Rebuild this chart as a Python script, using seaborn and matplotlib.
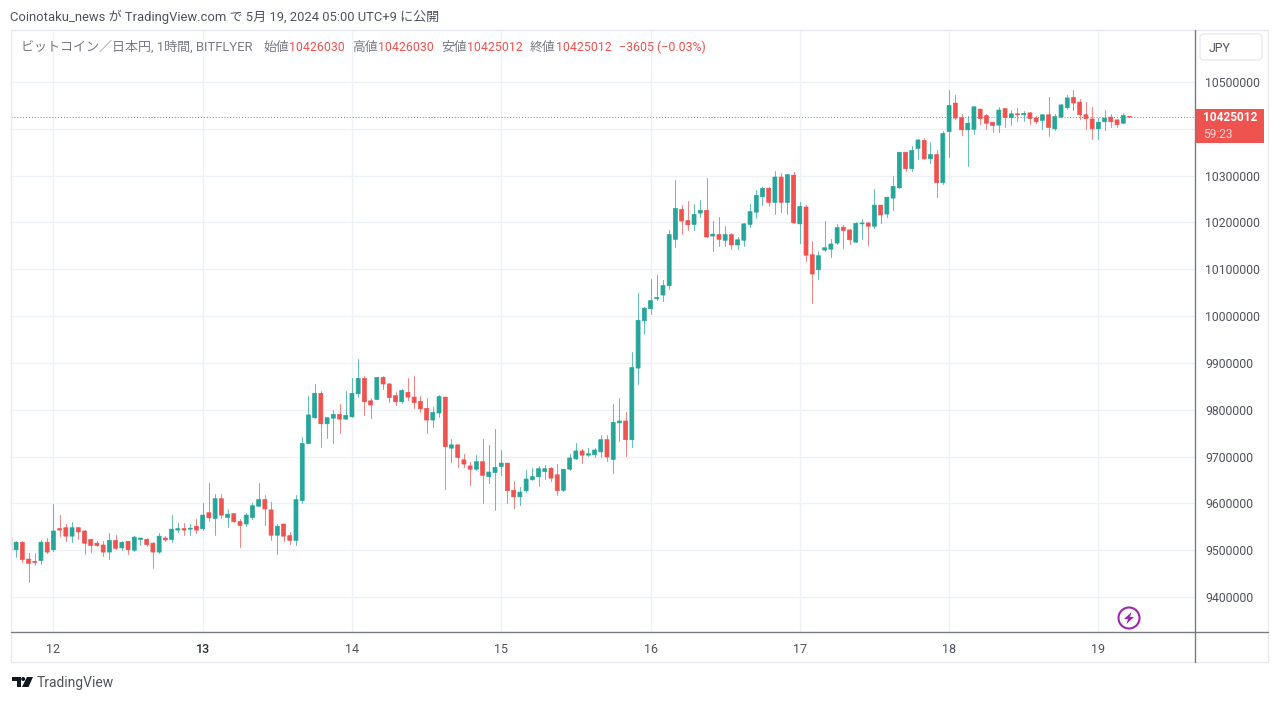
import matplotlib
matplotlib.use("Agg")
import matplotlib.pyplot as plt
from matplotlib.patches import Circle, FancyBboxPatch, Polygon, Rectangle
from matplotlib.ticker import FuncFormatter
import numpy as np
import pandas as pd
import seaborn as sns

# BTC/JPY hourly candles on bitFlyer, prices in thousands of yen.
# Hour 0 is 00:00 on May 12.
first_hour = -7
open_k = [
    9528, 9501, 9517, 9481, 9476, 9478, 9517,
    9501, 9546, 9548, 9530, 9548, 9541, 9523, 9515, 9511, 9496,
    9521, 9505, 9519, 9500, 9523, 9523, 9515, 9496, 9526, 9523,
    9543, 9546, 9545, 9551, 9546, 9580, 9568, 9610, 9570, 9578,
    9561, 9556, 9570, 9594, 9608, 9586, 9532, 9556, 9531, 9521,
    9606, 9728, 9783, 9835, 9770, 9782, 9790, 9780, 9785, 9834,
    9867, 9819, 9822, 9869, 9855, 9830, 9817, 9837, 9827, 9818,
    9803, 9778, 9793, 9827, 9718, 9725, 9693, 9680, 9673, 9689,
    9657, 9666, 9679, 9686, 9628, 9614, 9627, 9651, 9657, 9668,
    9675, 9661, 9628, 9673, 9695, 9712, 9703, 9704, 9710, 9736,
    9694, 9772, 9776, 9736, 9889, 9990, 10016, 10037, 10045, 10065,
    10164, 10228, 10204, 10196, 10220, 10226, 10171, 10174, 10162, 10174,
    10152, 10162, 10196, 10222, 10255, 10273, 10243, 10297, 10243, 10301,
    10197, 10233, 10131, 10099, 10141, 10143, 10156, 10190, 10184, 10158,
    10197, 10199, 10192, 10237, 10218, 10252, 10274, 10350, 10315, 10358,
    10375, 10336, 10345, 10285, 10394, 10455, 10424, 10398, 10399, 10442,
    10428, 10414, 10408, 10443, 10424, 10432, 10430, 10434, 10423, 10418,
    10430, 10400, 10425, 10445, 10467, 10457, 10430, 10421, 10400, 10415,
    10425, 10419, 10412, 10426.030,
]
high_k = [
    9528, 9519, 9519, 9493, 9494, 9521, 9525,
    9598, 9576, 9556, 9560, 9550, 9543, 9523, 9519, 9520, 9536,
    9533, 9520, 9519, 9530, 9527, 9526, 9518, 9537, 9531, 9576,
    9558, 9558, 9557, 9566, 9600, 9644, 9621, 9621, 9587, 9578,
    9566, 9580, 9601, 9644, 9617, 9603, 9556, 9556, 9538, 9617,
    9741, 9830, 9856, 9839, 9783, 9800, 9812, 9839, 9867, 9908,
    9872, 9825, 9869, 9872, 9857, 9837, 9844, 9867, 9872, 9830,
    9825, 9805, 9832, 9827, 9737, 9725, 9706, 9689, 9703, 9737,
    9725, 9758, 9714, 9687, 9647, 9634, 9671, 9675, 9679, 9681,
    9677, 9684, 9674, 9705, 9728, 9717, 9719, 9719, 9745, 9745,
    9812, 9826, 9795, 9924, 10049, 10019, 10079, 10088, 10078, 10183,
    10290, 10238, 10245, 10240, 10247, 10296, 10203, 10211, 10193, 10178,
    10168, 10198, 10240, 10269, 10276, 10275, 10309, 10306, 10302, 10307,
    10243, 10237, 10161, 10139, 10204, 10165, 10196, 10195, 10187, 10202,
    10207, 10202, 10272, 10238, 10254, 10299, 10350, 10350, 10363, 10378,
    10380, 10371, 10354, 10395, 10483, 10472, 10432, 10427, 10447, 10442,
    10431, 10414, 10446, 10444, 10440, 10444, 10437, 10435, 10427, 10432,
    10467, 10432, 10452, 10472, 10483, 10464, 10457, 10446, 10423, 10440,
    10432, 10420, 10434, 10426.030,
]
low_k = [
    9500, 9485, 9474, 9432, 9469, 9471, 9493,
    9498, 9531, 9519, 9517, 9523, 9491, 9496, 9508, 9487, 9481,
    9503, 9501, 9492, 9499, 9512, 9510, 9463, 9493, 9519, 9517,
    9538, 9533, 9533, 9537, 9543, 9563, 9533, 9568, 9550, 9560,
    9506, 9551, 9566, 9594, 9554, 9521, 9491, 9519, 9513, 9511,
    9600, 9728, 9783, 9720, 9740, 9730, 9751, 9780, 9785, 9827,
    9789, 9782, 9822, 9845, 9817, 9811, 9814, 9821, 9804, 9796,
    9751, 9764, 9785, 9630, 9688, 9677, 9677, 9639, 9672, 9600,
    9644, 9585, 9660, 9600, 9591, 9597, 9625, 9650, 9637, 9653,
    9648, 9617, 9627, 9672, 9694, 9686, 9701, 9698, 9698, 9691,
    9665, 9733, 9702, 9721, 9856, 9962, 10005, 10035, 10033, 10057,
    10148, 10176, 10183, 10183, 10212, 10169, 10139, 10150, 10150, 10144,
    10143, 10150, 10191, 10210, 10237, 10235, 10219, 10223, 10218, 10199,
    10156, 10118, 10029, 10079, 10140, 10126, 10154, 10145, 10153, 10158,
    10165, 10151, 10189, 10199, 10212, 10227, 10274, 10310, 10310, 10336,
    10336, 10327, 10255, 10283, 10340, 10421, 10386, 10321, 10390, 10410,
    10400, 10393, 10393, 10403, 10408, 10416, 10416, 10410, 10412, 10400,
    10385, 10398, 10425, 10442, 10440, 10421, 10400, 10378, 10378, 10398,
    10404, 10404, 10412, 10425.012,
]
close_k = [
    9500, 9517, 9480, 9472, 9474, 9517, 9496,
    9541, 9543, 9530, 9548, 9539, 9515, 9510, 9510, 9496, 9521,
    9504, 9517, 9501, 9528, 9526, 9512, 9496, 9530, 9522, 9545,
    9546, 9543, 9547, 9543, 9575, 9569, 9610, 9575, 9577, 9561,
    9553, 9575, 9595, 9608, 9588, 9532, 9551, 9530, 9521, 9608,
    9728, 9789, 9835, 9770, 9783, 9790, 9780, 9788, 9835, 9867,
    9817, 9810, 9869, 9855, 9826, 9817, 9841, 9827, 9815, 9802,
    9778, 9794, 9828, 9721, 9725, 9698, 9684, 9673, 9689, 9660,
    9667, 9677, 9686, 9627, 9614, 9624, 9652, 9657, 9674, 9674,
    9654, 9627, 9673, 9697, 9712, 9703, 9706, 9714, 9736, 9699,
    9773, 9776, 9736, 9890, 9991, 10017, 10033, 10040, 10065, 10174,
    10230, 10203, 10195, 10217, 10226, 10169, 10175, 10164, 10174, 10152,
    10163, 10197, 10223, 10258, 10273, 10243, 10297, 10243, 10302, 10199,
    10234, 10130, 10090, 10129, 10146, 10154, 10189, 10183, 10163, 10198,
    10199, 10192, 10237, 10216, 10254, 10277, 10350, 10315, 10354, 10376,
    10336, 10345, 10285, 10390, 10450, 10423, 10398, 10412, 10447, 10422,
    10412, 10407, 10440, 10424, 10432, 10430, 10433, 10422, 10415, 10430,
    10403, 10426, 10451, 10466, 10455, 10430, 10422, 10400, 10414, 10423,
    10415, 10409, 10428.6, 10425.012,
]

day_labels = ["12", "13", "14", "15", "16", "17", "18", "19"]
price_ticks = [9400000 + 100000 * n for n in range(12)]
covered_tick = 10400000
last_price = 10425012
legend_parts = [
    (21, "ビットコイン／日本円, 1時間, BITFLYER", "gray", 9.4),
    (263, "始値", "gray", 9.2), (289, "10426030", "red", 8.9),
    (352, "高値", "gray", 9.2), (378, "10426030", "red", 8.9),
    (441, "安値", "gray", 9.2), (467, "10425012", "red", 8.9),
    (530, "終値", "gray", 9.2), (556, "10425012", "red", 8.9),
    (619, "−3605 (−0.03%)", "red", 8.9),
]

UP = "#26a69a"
DOWN = "#ef5350"
GRID = "#edf2f7"
AXIS = "#787b86"
TEXT = "#50535e"
BORDER = "#e6e9f0"

sns.set_theme(style="white")
plt.rcParams["font.family"] = ["Roboto", "Noto Sans CJK JP", "DejaVu Sans"]

candles = pd.DataFrame({
    "open": np.array(open_k) * 1000,
    "high": np.array(high_k) * 1000,
    "low": np.array(low_k) * 1000,
    "close": np.array(close_k) * 1000,
})
candles["hour"] = first_hour + candles.index
candles["side"] = np.where(candles["close"] >= candles["open"], "up", "down")
candles["body_low"] = candles[["open", "close"]].min(axis=1)
candles["body"] = (candles["close"] - candles["open"]).abs()

W, H = 1280, 701
PANE_L, PANE_R, PANE_T, PANE_B = 11, 1195, 30, 632
fig = plt.figure(figsize=(W / 100, H / 100), dpi=100, facecolor="white")
ax = fig.add_axes([PANE_L / W, 1 - PANE_B / H, (PANE_R - PANE_L) / W, (PANE_B - PANE_T) / H])

# One vertical wick per candle, split by direction for colouring.
wicks = candles.melt(id_vars=["hour", "side"], value_vars=["low", "high"], value_name="price")
sns.lineplot(data=wicks, x="hour", y="price", units="hour", estimator=None, hue="side",
             palette={"up": UP, "down": DOWN}, linewidth=0.75, alpha=0.7, sort=False,
             legend=False, ax=ax, zorder=3)

# Candle bodies floated on their lower edge.
for side, colour in (("up", UP), ("down", DOWN)):
    part = candles[candles["side"] == side]
    sns.barplot(data=part, x="hour", y="body", native_scale=True, width=0.64, color=colour,
                saturation=1, errorbar=None, bottom=part["body_low"].to_numpy(),
                edgecolor=colour, linewidth=0.5, ax=ax, zorder=4)
for bar in ax.patches:
    bar.set_snap(False)

ax.axhline(last_price, color=DOWN, linewidth=0.7, linestyle=(0, (1, 2)), zorder=2)

px_per_hour = 149.28 / 24
hour0_px = 53.4
ax.set_xlim((PANE_L - hour0_px) / px_per_hour, (PANE_R - hour0_px) / px_per_hour)
yen_per_px = 100000 / 46.82
ax.set_ylim(10500000 - (PANE_B - 82) * yen_per_px, 10500000 + (82 - PANE_T) * yen_per_px)

ax.set_xticks([24 * n for n in range(len(day_labels))], day_labels)
ax.set_yticks(price_ticks)
# The live price tag sits over the 10400000 level, so that label stays blank.
ax.yaxis.set_major_formatter(
    FuncFormatter(lambda v, _: "" if round(v) == covered_tick else f"{int(round(v))}")
)
ax.yaxis.tick_right()
ax.grid(True, color=GRID, linewidth=1.0, zorder=0)
ax.set_axisbelow(True)
ax.set_xlabel("")
ax.set_ylabel("")
ax.tick_params(axis="y", length=0, pad=7.5, labelsize=8.8, labelcolor=TEXT)
ax.tick_params(axis="x", length=0, pad=8, labelsize=9, labelcolor=TEXT)
ax.get_xticklabels()[1].set_fontweight("medium")
ax.get_xticklabels()[1].set_color("#2a2e39")
for spine in ax.spines.values():
    spine.set_visible(False)

# Frame, header, price tag and footer in pixel coordinates.
chrome = fig.add_axes([0, 0, 1, 1], zorder=5)
chrome.set_xlim(0, W)
chrome.set_ylim(H, 0)
chrome.axis("off")
chrome.patch.set_alpha(0)

chrome.plot([11, 1268, 1268, 11, 11], [30, 30, 662, 662, 30], color=BORDER, lw=1.0)
chrome.plot([11, 1268], [632, 632], color=AXIS, lw=1.0)
chrome.plot([1195, 1195], [30, 662], color=AXIS, lw=1.0)

chrome.text(10, 17, "Coinotaku_news が TradingView.com で 5月 19, 2024 05:00 UTC+9 に公開",
            fontsize=9.4, color="#50535e", va="center", ha="left")
for x, label, tone, size in legend_parts:
    chrome.text(x, 47.5, label, fontsize=size, va="center", ha="left",
                color="#787b86" if tone == "gray" else DOWN)

chrome.add_patch(FancyBboxPatch((1200, 34), 62, 26, boxstyle="round,pad=0,rounding_size=4",
                                facecolor="white", edgecolor=BORDER, lw=1.0))
chrome.text(1209, 48, "JPY", fontsize=8.8, color=TEXT, va="center", ha="left")

chrome.add_patch(Rectangle((1195, 109), 69, 34, facecolor=DOWN, edgecolor="none"))
chrome.text(1203, 117.5, f"{last_price}", fontsize=8.6, color="white", fontweight="bold",
            va="center", ha="left")
chrome.text(1203, 134, "59:23", fontsize=8.6, color="#fbd5d4", va="center", ha="left")

# Lightning badge near the latest candle.
chrome.add_patch(Circle((1129, 618), 10.5, facecolor="white", edgecolor="#9c27b0", lw=1.5))
chrome.add_patch(Polygon([(1131.5, 612), (1124, 619), (1128, 619), (1126.5, 624),
                          (1134, 617), (1130, 617)], closed=True, facecolor="#9c27b0",
                         edgecolor="none"))

# Footer wordmark.
chrome.add_patch(Polygon([(11.5, 677), (20.5, 677), (20.5, 687), (16.5, 687),
                          (16.5, 681), (11.5, 681)], closed=True, facecolor="#131722",
                         edgecolor="none"))
chrome.add_patch(Circle((23.2, 679), 2, facecolor="#131722", edgecolor="none"))
chrome.add_patch(Polygon([(27, 677), (33, 677), (28.5, 687), (22, 687)], closed=True,
                         facecolor="#131722", edgecolor="none"))
chrome.text(37, 682.5, "TradingView", fontsize=10, color="#50535e", va="center", ha="left")

fig.savefig("out.png", dpi=100, facecolor="white")
